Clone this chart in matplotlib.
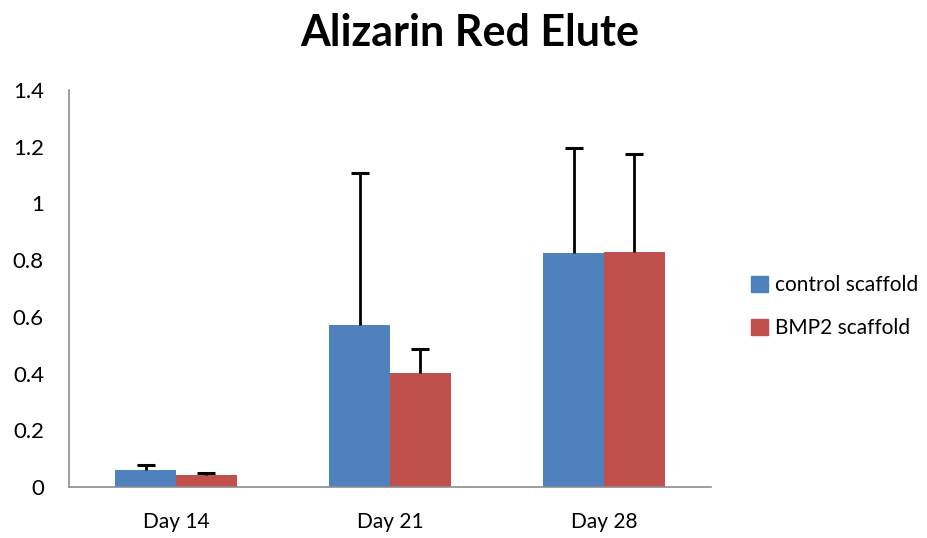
import matplotlib.pyplot as plt
import numpy as np
from matplotlib.patches import Patch

plt.rcParams["font.family"] = ["Lato", "DejaVu Sans"]

days = ["Day 14", "Day 21", "Day 28"]
control = [0.060, 0.573, 0.826]
control_err = [0.017, 0.533, 0.370]
bmp2 = [0.042, 0.402, 0.828]
bmp2_err = [0.008, 0.086, 0.345]
y_ticks = [0, 0.2, 0.4, 0.6, 0.8, 1.0, 1.2, 1.4]
y_labels = ["0", "0.2", "0.4", "0.6", "0.8", "1", "1.2", "1.4"]

BLUE = "#4F81BD"
RED = "#C0504D"

fig = plt.figure(figsize=(9.27, 5.38), dpi=100)
ax = fig.add_axes([0.0744, 0.0948, 0.6926, 0.7379])

x = np.arange(len(days))
w = 0.283


def bars_with_err(pos, vals, errs, color):
    # excel style: only the upper half of the error bar, cap on top
    ax.bar(pos, vals, w, color=color, zorder=2)
    tops = np.array(vals) + np.array(errs)
    ax.vlines(pos, vals, tops, colors="black", linewidth=2, zorder=3)
    ax.plot(pos, tops, linestyle="none", marker="_", markersize=13,
            markeredgewidth=2.2, color="black", zorder=3)


bars_with_err(x - w / 2, control, control_err, BLUE)
bars_with_err(x + w / 2, bmp2, bmp2_err, RED)

ax.set_xlim(-0.5, 2.5)
ax.set_ylim(0, 1.4)
ax.set_xticks(x)
ax.set_xticklabels(days, fontsize=15)
ax.set_yticks(y_ticks)
ax.set_yticklabels(y_labels, fontsize=16)
ax.tick_params(axis="y", length=0, pad=18)
ax.tick_params(axis="x", length=0, pad=18)

for s in ["top", "right"]:
    ax.spines[s].set_visible(False)
for s in ["left", "bottom"]:
    ax.spines[s].set_color("#8c8c8c")
    ax.spines[s].set_linewidth(1.2)

fig.text(0.507, 0.938, "Alizarin Red Elute", ha="center", va="center",
         fontsize=31, fontweight="bold")

handles = [Patch(color=BLUE, label="control scaffold"),
           Patch(color=RED, label="BMP2 scaffold")]
fig.legend(handles=handles, loc="center left", bbox_to_anchor=(0.79, 0.43),
           frameon=False, fontsize=15, handlelength=0.8, handleheight=0.8,
           handletextpad=0.35, labelspacing=1.1)

fig.savefig("out.png", dpi=100)
